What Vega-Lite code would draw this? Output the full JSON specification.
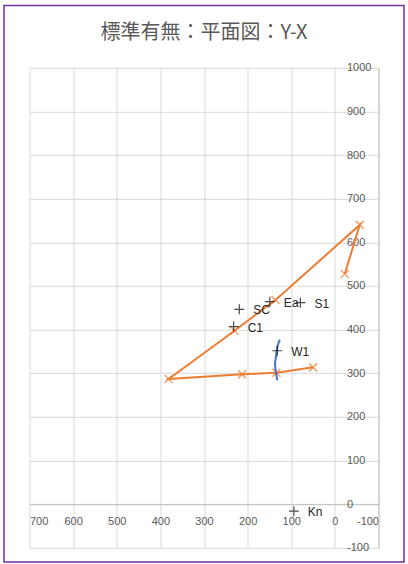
{
  "$schema": "https://vega.github.io/schema/vega-lite/v6.json",
  "width": 349,
  "height": 480,
  "autosize": "none",
  "padding": {"left": 29.5, "top": 67.8, "right": 29.5, "bottom": 16.2},
  "background": "white",
  "title": {
    "text": "標準有無：平面図：Y-X",
    "font": "Noto Sans CJK JP",
    "fontSize": 20,
    "fontWeight": "normal",
    "color": "#595959",
    "anchor": "middle",
    "frame": "group",
    "baseline": "alphabetic",
    "offset": -54
  },
  "config": {
    "view": {"stroke": null},
    "axis": {
      "labelFont": "Liberation Sans",
      "labelFontSize": 11,
      "labelColor": "#595959",
      "gridColor": "#d9d9d9",
      "gridWidth": 1,
      "gridOpacity": 1,
      "domainColor": "#bfbfbf",
      "domainWidth": 1,
      "ticks": false,
      "title": null,
      "labelOverlap": false
    }
  },
  "datasets": {
    "orange": [
      {"x": -22.7, "y": 527.5, "o": 1},
      {"x": -57, "y": 640, "o": 2},
      {"x": 136, "y": 468, "o": 3},
      {"x": 230, "y": 397.5, "o": 4},
      {"x": 381, "y": 287, "o": 5},
      {"x": 212.6, "y": 297.5, "o": 6},
      {"x": 134, "y": 301, "o": 7},
      {"x": 50, "y": 313.5, "o": 8}
    ],
    "blue": [
      {"x": 126, "y": 377, "o": 1},
      {"x": 132, "y": 364, "o": 2},
      {"x": 135, "y": 337, "o": 3},
      {"x": 138, "y": 322, "o": 4},
      {"x": 136, "y": 307, "o": 5},
      {"x": 132, "y": 284, "o": 6}
    ],
    "pts": [
      {"x": 219, "y": 446.5, "label": "SC"},
      {"x": 149, "y": 464, "label": "Ea"},
      {"x": 79, "y": 462, "label": "S1"},
      {"x": 232, "y": 407, "label": "C1"},
      {"x": 132, "y": 351.6, "label": "W1"},
      {"x": 94, "y": -16, "label": "Kn"}
    ],
    "frame": [{"a": 1}]
  },
  "layer": [
    {
      "data": {"name": "frame"},
      "mark": {"type": "rect", "fill": null, "stroke": "#7030A0", "strokeWidth": 1.5, "clip": false},
      "encoding": {
        "x": {"datum": 758.45, "type": "quantitative", "scale": {"domain": [-100, 700], "reverse": true, "nice": false, "zero": false}},
        "x2": {"datum": -158.5},
        "y": {"datum": 1142.8, "type": "quantitative", "scale": {"domain": [-100, 1000], "nice": false, "zero": false}},
        "y2": {"datum": -132.6}
      }
    },
    {
      "data": {"name": "orange"},
      "mark": {"type": "line", "color": "#ED7D31", "strokeWidth": 2},
      "encoding": {
        "x": {
          "field": "x", "type": "quantitative",
          "scale": {"domain": [-100, 700], "reverse": true, "nice": false, "zero": false},
          "axis": {"orient": "bottom", "offset": -43.6, "values": [-100, 0, 100, 200, 300, 400, 500, 600, 700], "labelExpr": "'' + datum.value", "labelPadding": 11, "grid": true}
        },
        "y": {
          "field": "y", "type": "quantitative",
          "scale": {"domain": [-100, 1000], "nice": false, "zero": false},
          "axis": {"orient": "right", "values": [-100, 0, 100, 200, 300, 400, 500, 600, 700, 800, 900, 1000], "labelExpr": "'' + datum.value", "labelAlign": "left", "labelPadding": -32, "labelBaseline": "middle", "grid": true}
        },
        "order": {"field": "o"}
      }
    },
    {
      "data": {"name": "orange"},
      "mark": {"type": "point", "shape": "M-1,-1L1,1M-1,1L1,-1", "size": 64, "filled": false, "stroke": "#ED7D31", "strokeWidth": 1.5},
      "encoding": {
        "x": {"field": "x", "type": "quantitative"},
        "y": {"field": "y", "type": "quantitative"}
      }
    },
    {
      "data": {"name": "blue"},
      "mark": {"type": "line", "color": "#4472C4", "strokeWidth": 2, "interpolate": "basis"},
      "encoding": {
        "x": {"field": "x", "type": "quantitative"},
        "y": {"field": "y", "type": "quantitative"},
        "order": {"field": "o"}
      }
    },
    {
      "data": {"name": "pts"},
      "mark": {"type": "point", "shape": "M0,-1L0,1M-1,0L1,0", "size": 100, "filled": false, "stroke": "#000000", "strokeWidth": 1.2},
      "encoding": {
        "x": {"field": "x", "type": "quantitative"},
        "y": {"field": "y", "type": "quantitative"}
      }
    },
    {
      "data": {"name": "pts"},
      "mark": {"type": "text", "align": "left", "baseline": "middle", "dx": 14, "dy": 1, "font": "Liberation Sans", "fontSize": 12, "color": "#262626"},
      "encoding": {
        "x": {"field": "x", "type": "quantitative"},
        "y": {"field": "y", "type": "quantitative"},
        "text": {"field": "label"}
      }
    }
  ]
}
